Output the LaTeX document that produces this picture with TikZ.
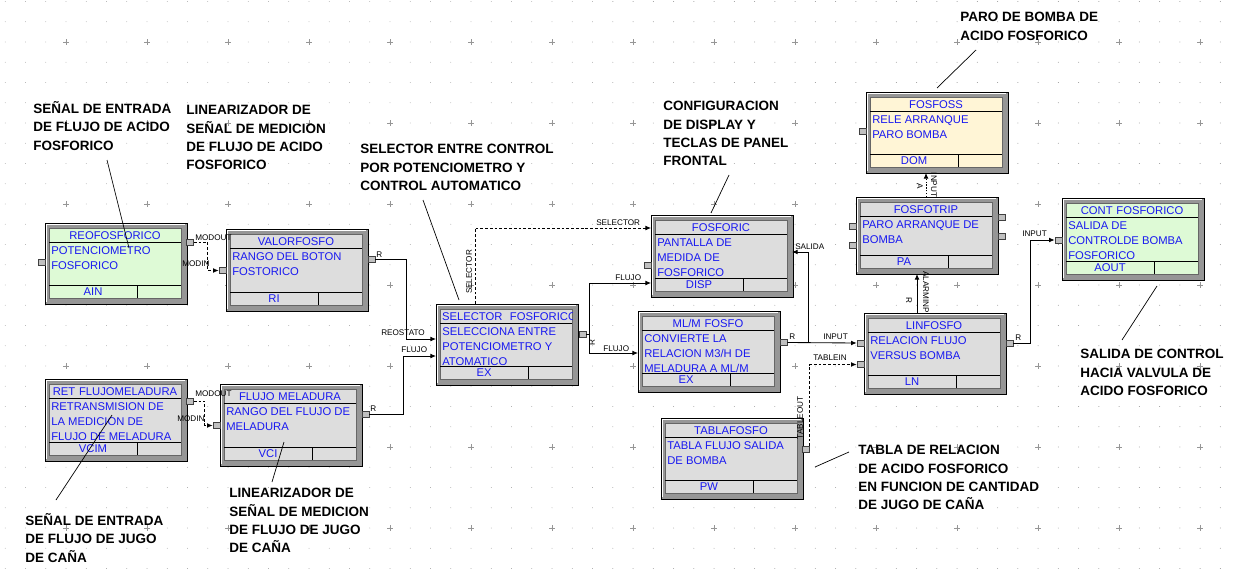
\documentclass[tikz,border=0pt]{standalone}
\usepackage{fontspec}
\setmainfont{Liberation Sans}
\usetikzlibrary{arrows.meta}

\definecolor{azul}{RGB}{25,25,240}
\definecolor{grisbloque}{RGB}{221,221,221}
\definecolor{verdebloque}{RGB}{222,250,214}
\definecolor{crema}{RGB}{255,245,214}
\definecolor{grismarco}{RGB}{150,150,150}
\definecolor{grispuerto}{RGB}{192,192,192}
\definecolor{grisrejilla}{RGB}{150,150,150}

\newcommand{\pxu}{0.025cm}
\newcommand{\fbloque}{\fontsize{8}{10.6}\selectfont}
\newcommand{\fpuerto}{\fontsize{5.8}{6}\selectfont}
\newcommand{\fnota}{\fontsize{9.6}{13.1}\selectfont\bfseries}

% bloque: nombre, izq, arriba, alto, relleno, titulo, texto, tipo
\newcommand{\Bloque}[8]{%
  \filldraw[fill=grismarco, draw=black, line width=0.7pt] (#2,#3) rectangle ++(142,#4);
  \draw[white, line width=0.8pt] (#2+1.5,#3+#4-2) -- (#2+1.5,#3+1.5) -- (#2+140,#3+1.5);
  \filldraw[fill=#5, draw=black!60, line width=0.5pt] (#2+4,#3+5) rectangle (#2+136,#3+#4-6);
  \draw[line width=0.7pt] (#2+4,#3+19) -- (#2+136,#3+19);
  \draw[line width=0.7pt] (#2+4,#3+#4-19) -- (#2+136,#3+#4-19);
  \draw[line width=0.7pt] (#2+92,#3+#4-19) -- (#2+92,#3+#4-6);
  \begin{scope}
    \clip (#2+4,#3+5) rectangle (#2+136,#3+19);
    \node[titulo, text width=128*\pxu, align=center] at (#2+70,#3+13) {\mbox{#6}};
  \end{scope}
  \node[cuerpo] at (#2+6,#3+20.5) {\strut #7};
  \node[titulo] at (#2+48,#3+#4-12) {#8};
  \node[caja, minimum width=142*\pxu, minimum height=#4*\pxu] (#1) at (#2+71,#3+#4/2) {};
}

\begin{document}
\begin{tikzpicture}[x=\pxu, y=-\pxu,
    every node/.style={inner sep=0pt},
    titulo/.style={text=azul, font=\fbloque, text height=5.6pt, text depth=0pt},
    cuerpo/.style={text=azul, font=\fbloque, anchor=north west, align=left},
    caja/.style={draw=none, rectangle},
    puerto/.style={draw=black!75, fill=grispuerto, line width=0.5pt,
        minimum width=7*\pxu, minimum height=6*\pxu},
    etiqueta/.style={font=\fpuerto, anchor=west},
    nota/.style={font=\fnota, anchor=north west, align=left},
    enlace/.style={line width=0.6pt, -{Latex[length=1.4mm,width=1.2mm]}},
    discontinuo/.style={dash pattern=on 2pt off 1.4pt},
    guia/.style={line width=0.5pt}]

    \fill[white] (0,0) rectangle (1236,572);
    \useasboundingbox (0,0) rectangle (1236,572);

    % rejilla de puntos
    \foreach \i in {0,...,60}
        \foreach \j in {0,...,28}
            \fill[grisrejilla] (5.25+20.25*\i,1.5+20.25*\j) circle (0.35pt);
    \foreach \i in {0,...,14}
        \foreach \j in {0,...,6}
            \draw[grisrejilla, line width=0.4pt] (63+81*\i,42+81*\j) -- ++(6,0)
                (66+81*\i,39+81*\j) -- ++(0,6);

    % bloques
    \Bloque{reo}{45}{223}{81}{verdebloque}{REOFOSFORICO}{POTENCIOMETRO\\FOSFORICO}{AIN}
    \Bloque{valor}{226}{229}{82}{grisbloque}{VALORFOSFO}{RANGO DEL BOTON\\FOSTORICO}{RI}
    \Bloque{ret}{45}{379}{82}{grisbloque}{RET FLUJOMELADURA}{RETRANSMISION DE\\LA MEDICION DE\\FLUJO DE MELADURA}{VCIM}
    \Bloque{flujo}{220}{384}{82}{grisbloque}{FLUJO MELADURA}{RANGO DEL FLUJO DE\\MELADURA}{VCI}
    \Bloque{selector}{436}{304}{81}{grisbloque}{SELECTOR\ \ FOSFORICO}{SELECCIONA ENTRE\\POTENCIOMETRO Y\\ATOMATICO}{EX}
    \Bloque{fosforic}{651}{215}{82}{grisbloque}{FOSFORIC}{PANTALLA DE\\MEDIDA DE\\FOSFORICO}{DISP}
    \Bloque{mlm}{638}{311}{81}{grisbloque}{ML/M FOSFO}{CONVIERTE LA\\RELACION M3/H DE\\MELADURA A ML/M}{EX}
    \Bloque{tabla}{661}{418}{81}{grisbloque}{TABLAFOSFO}{TABLA FLUJO SALIDA\\DE BOMBA}{PW}
    \Bloque{lin}{864}{313}{81}{grisbloque}{LINFOSFO}{RELACION FLUJO\\VERSUS BOMBA}{LN}
    \Bloque{trip}{856}{197}{77}{grisbloque}{FOSFOTRIP}{PARO ARRANQUE DE\\BOMBA}{PA}
    \Bloque{foss}{866}{92}{81}{crema}{FOSFOSS}{RELE ARRANQUE\\PARO BOMBA}{DOM}
    \Bloque{cont}{1062}{198}{82}{verdebloque}{CONT FOSFORICO}{SALIDA DE\\CONTROLDE BOMBA\\FOSFORICO}{AOUT}

    % puertos
    \node[puerto] (reo-in) at (41.5,262.5) {};
    \node[puerto] (reo-out) at (190,242) {};
    \node[puerto] (valor-in) at (222.5,270.5) {};
    \node[puerto] (valor-r) at (371.5,259.5) {};
    \node[puerto] (ret-out) at (190,401) {};
    \node[puerto] (flujo-in) at (216.5,425.5) {};
    \node[puerto] (flujo-r) at (365.5,414.5) {};
    \node[puerto] (sel-out) at (582.5,334) {};
    \node[puerto] (fos-aux) at (647.5,265.5) {};
    \node[puerto] (mlm-r) at (783.5,342.5) {};
    \node[puerto] (tabla-out) at (805.5,449.5) {};
    \node[puerto] (lin-input) at (860.5,343) {};
    \node[puerto] (lin-tablein) at (860.5,364.5) {};
    \node[puerto] (lin-r) at (1009.5,343) {};
    \node[puerto] (trip-a) at (852.5,226) {};
    \node[puerto] (trip-b) at (852.5,245) {};
    \node[puerto] (trip-c) at (1001.5,217.5) {};
    \node[puerto] (trip-d) at (1001.5,236) {};
    \node[puerto] (foss-in) at (862.5,131) {};
    \node[puerto] (cont-input) at (1058.5,240) {};

    \coordinate (sel-reostato) at (436,339);
    \coordinate (sel-flujo) at (436,356);
    \coordinate (sel-top) at (475,304);
    \coordinate (fos-selector) at (651,228);
    \coordinate (fos-flujo) at (651,283);
    \coordinate (fos-salida) at (792,252);
    \coordinate (mlm-flujo) at (638,353);
    \coordinate (nudo) at (808,342.5);
    \coordinate (lin-alarm) at (917,313);
    \coordinate (trip-alarm) at (917,274);
    \coordinate (trip-top) at (926,197);
    \coordinate (foss-input) at (926,173);

    % conexiones
    \draw[enlace, discontinuo] (reo-out.east) -- ++(14,0) |- (valor-in.west);
    \draw[enlace, discontinuo] (ret-out.east) -- ++(11,0) |- (flujo-in.west);
    \draw[enlace] (valor-r.east) -- ++(31,0) |- (sel-reostato);
    \draw[enlace] (flujo-r.east) -- ++(34,0) |- (sel-flujo);
    \draw[enlace, discontinuo] (sel-top) |- (fos-selector);
    \draw[enlace] (sel-out.east) -- ++(3,0) |- (fos-flujo);
    \draw[enlace] (sel-out.east) -- ++(3,0) |- (mlm-flujo);
    \draw[enlace] (mlm-r.east) -- (lin-input.west);
    \draw[enlace] (nudo) |- (fos-salida);
    \draw[enlace, discontinuo] (tabla-out.north east) |- (lin-tablein.west);
    \draw[enlace] (lin-r.east) -- ++(17,0) |- (cont-input.west);
    \draw[enlace] (lin-alarm) -- (trip-alarm);
    \draw[enlace, dash pattern=on 1pt off 1pt] (trip-top) -- (foss-input);

    % nombres de las conexiones
    \node[etiqueta] at (195,237.5) {MODOUT};
    \node[etiqueta] at (182,263.5) {MODIN};
    \node[etiqueta] at (195,394) {MODOUT};
    \node[etiqueta] at (177,418.5) {MODIN};
    \node[etiqueta] at (376,254.5) {R};
    \node[etiqueta] at (381,333) {REOSTATO};
    \node[etiqueta] at (370,409) {R};
    \node[etiqueta] at (401,350) {FLUJO};
    \node[etiqueta, anchor=center, rotate=90] at (469,272) {SELECTOR};
    \node[etiqueta] at (596,222.5) {SELECTOR};
    \node[etiqueta] at (615,278) {FLUJO};
    \node[etiqueta, anchor=center, rotate=90] at (592,343) {R};
    \node[etiqueta] at (603,349) {FLUJO};
    \node[etiqueta] at (789,337) {R};
    \node[etiqueta] at (823,337) {INPUT};
    \node[etiqueta] at (813,357.5) {TABLEIN};
    \node[etiqueta] at (795,246.5) {SALIDA};
    \node[etiqueta, anchor=center, rotate=90] at (800,418) {TABLEOUT};
    \node[etiqueta] at (1015,337.5) {R};
    \node[etiqueta] at (1022,233.5) {INPUT};
    \node[etiqueta, anchor=center, rotate=-90] at (926,292) {ALARMINP};
    \node[etiqueta, anchor=center, rotate=-90] at (909,300) {R};
    \node[etiqueta, anchor=center, rotate=-90] at (934,185) {INPUT};
    \node[etiqueta, anchor=center, rotate=-90] at (920,186) {A};

    % notas
    \node[nota] (n-reo) at (33,101) {SEÑAL DE ENTRADA\\DE FLUJO DE ACIDO\\FOSFORICO};
    \node[nota] (n-valor) at (186,105) {LINEARIZADOR DE\\SEÑAL DE MEDICION\\DE FLUJO DE ACIDO\\FOSFORICO};
    \node[nota] (n-selector) at (360,144) {SELECTOR ENTRE CONTROL\\POR POTENCIOMETRO Y\\CONTROL AUTOMATICO};
    \node[nota] (n-fosforic) at (663,101) {CONFIGURACION\\DE DISPLAY Y\\TECLAS DE PANEL\\FRONTAL};
    \node[nota] (n-foss) at (960,12) {PARO DE BOMBA DE\\ACIDO FOSFORICO};
    \node[nota] (n-cont) at (1080,349) {SALIDA DE CONTROL\\HACIA VALVULA DE\\ACIDO FOSFORICO};
    \node[nota] (n-tabla) at (858,445) {TABLA DE RELACION\\DE ACIDO FOSFORICO\\EN FUNCION DE CANTIDAD\\DE JUGO DE CAÑA};
    \node[nota] (n-ret) at (25,513) {SEÑAL DE ENTRADA\\DE FLUJO DE JUGO\\DE CAÑA};
    \node[nota] (n-flujo) at (229,488) {LINEARIZADOR DE\\SEÑAL DE MEDICION\\DE FLUJO DE JUGO\\DE CAÑA};

    \draw[guia] (107,160) -- (129,248);
    \draw[guia] (423,200) -- (459,300);
    \draw[guia] (729,175) -- (711,213);
    \draw[guia] (976,50) -- (937,88);
    \draw[guia] (1157,286) -- (1122,340);
    \draw[guia] (815,467) -- (849,452);
    \draw[guia] (56,500) -- (112,415);
    \draw[guia] (272,482) -- (284,442);

\end{tikzpicture}
\end{document}
